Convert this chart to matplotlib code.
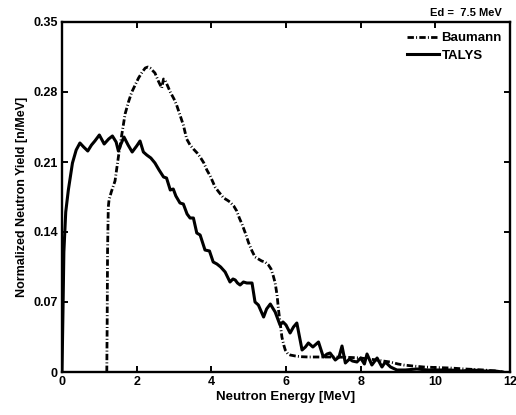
import matplotlib
matplotlib.use("Agg")
import matplotlib.pyplot as plt

# TALYS calculated neutron spectrum
talys_e = [0.0, 0.03, 0.05, 0.10, 0.17, 0.28, 0.38, 0.48, 0.58, 0.69, 0.79, 0.88,
           1.00, 1.13, 1.25, 1.35, 1.45, 1.51, 1.58, 1.66, 1.77, 1.88, 2.00, 2.09,
           2.18, 2.27, 2.38, 2.49, 2.60, 2.72, 2.80, 2.90, 2.98, 3.05, 3.16, 3.25,
           3.35, 3.43, 3.52, 3.61, 3.70, 3.83, 3.95, 4.05, 4.15, 4.25, 4.37, 4.50,
           4.58, 4.64, 4.70, 4.77, 4.86, 4.95, 5.09, 5.17, 5.26, 5.40, 5.48, 5.58,
           5.66, 5.71, 5.84, 5.92, 6.00, 6.11, 6.20, 6.29, 6.43, 6.52, 6.60, 6.72,
           6.87, 7.00, 7.10, 7.18, 7.32, 7.42, 7.50, 7.59, 7.70, 7.78, 7.90, 8.00,
           8.10, 8.17, 8.30, 8.44, 8.57, 8.66, 8.80, 8.97, 9.2, 9.5, 9.8, 10.1,
           10.4, 10.7, 11.0, 11.3, 11.6, 11.8]
talys_y = [0.0, 0.07, 0.12, 0.16, 0.182, 0.209, 0.222, 0.229, 0.225, 0.221, 0.227, 0.231,
           0.237, 0.228, 0.233, 0.236, 0.230, 0.221, 0.228, 0.235, 0.227, 0.220, 0.226, 0.231,
           0.220, 0.217, 0.214, 0.209, 0.202, 0.195, 0.194, 0.182, 0.183, 0.176, 0.169, 0.168,
           0.158, 0.154, 0.154, 0.139, 0.137, 0.122, 0.121, 0.110, 0.108, 0.105, 0.100, 0.090,
           0.093, 0.092, 0.089, 0.087, 0.090, 0.089, 0.089, 0.070, 0.067, 0.055, 0.063, 0.068,
           0.063, 0.060, 0.047, 0.050, 0.047, 0.039, 0.045, 0.049, 0.022, 0.025, 0.029, 0.025,
           0.030, 0.015, 0.018, 0.019, 0.012, 0.015, 0.026, 0.009, 0.013, 0.011, 0.010, 0.014,
           0.008, 0.018, 0.007, 0.014, 0.005, 0.010, 0.005, 0.002, 0.002, 0.003, 0.002, 0.002,
           0.002, 0.001, 0.002, 0.001, 0.001, 0.0]

# Baumann measured spectrum
baumann_e = [1.20, 1.21, 1.22, 1.24, 1.26, 1.32, 1.42, 1.51, 1.60, 1.69, 1.78, 1.87,
             1.96, 2.05, 2.15, 2.23, 2.30, 2.36, 2.49, 2.58, 2.67, 2.72, 2.76, 2.83,
             2.90, 3.00, 3.07, 3.16, 3.25, 3.34, 3.43, 3.52, 3.62, 3.70, 3.80, 3.88,
             3.97, 4.10, 4.20, 4.33, 4.42, 4.50, 4.60, 4.68, 4.75, 4.82, 4.91, 5.00,
             5.09, 5.17, 5.26, 5.35, 5.44, 5.53, 5.60, 5.66, 5.71, 5.76, 5.80, 5.85,
             5.89, 5.94, 5.98, 6.05, 6.11, 6.25, 6.40, 6.60, 6.83, 7.05, 7.27, 7.50,
             7.75, 8.00, 8.20, 8.44, 8.60, 8.79, 9.00, 9.15, 9.40, 9.69, 10.0, 10.4,
             10.8, 11.3, 11.6, 11.8]
baumann_y = [0.0, 0.05, 0.12, 0.165, 0.172, 0.180, 0.191, 0.215, 0.237, 0.258, 0.270, 0.280,
             0.287, 0.294, 0.300, 0.304, 0.305, 0.304, 0.299, 0.291, 0.284, 0.293, 0.292, 0.286,
             0.280, 0.273, 0.267, 0.257, 0.247, 0.233, 0.227, 0.223, 0.219, 0.215, 0.209, 0.202,
             0.196, 0.185, 0.180, 0.174, 0.172, 0.170, 0.166, 0.161, 0.154, 0.148, 0.139, 0.129,
             0.121, 0.115, 0.113, 0.111, 0.110, 0.107, 0.103, 0.096, 0.089, 0.077, 0.062, 0.047,
             0.035, 0.027, 0.022, 0.018, 0.017, 0.016, 0.0153, 0.015, 0.015, 0.015, 0.015, 0.0148,
             0.0145, 0.014, 0.013, 0.012, 0.011, 0.010, 0.008, 0.007, 0.006, 0.005, 0.0045, 0.004,
             0.003, 0.002, 0.001, 0.0]

x_ticks = [0, 2, 4, 6, 8, 10, 12]
y_ticks = [0, 0.07, 0.14, 0.21, 0.28, 0.35]
y_tick_labels = ["0", "0.07", "0.14", "0.21", "0.28", "0.35"]

plt.rcParams["font.family"] = ["Liberation Sans", "DejaVu Sans"]
plt.rcParams["font.weight"] = "bold"

fig = plt.figure(figsize=(5.16, 4.15), dpi=100)
ax = fig.add_axes([62 / 516, 43 / 415, 448 / 516, 350 / 415])

ax.plot(baumann_e, baumann_y, color="black", lw=2.0,
        dashes=[2.3, 0.8, 0.35, 0.8], label="Baumann")
ax.plot(talys_e, talys_y, color="black", lw=2.2, label="TALYS")

ax.set_xlim(0, 12)
ax.set_ylim(0, 0.35)
ax.set_xticks(x_ticks)
ax.set_xticklabels([str(t) for t in x_ticks])
ax.set_yticks(y_ticks)
ax.set_yticklabels(y_tick_labels)

for s in ax.spines.values():
    s.set_linewidth(1.7)
ax.tick_params(direction="in", length=4, width=1.4, top=True, right=True,
               labelsize=9, pad=3)
for lab in ax.get_xticklabels() + ax.get_yticklabels():
    lab.set_fontweight("bold")

ax.set_xlabel("Neutron Energy [MeV]", fontsize=9.5, fontweight="bold", labelpad=2)
ax.set_ylabel("Normalized Neutron Yield [n/MeV]", fontsize=9, fontweight="bold", labelpad=4)

ax.text(0.982, 1.012, "Ed =  7.5 MeV", transform=ax.transAxes, ha="right", va="bottom",
        fontsize=8, fontweight="bold")

leg = ax.legend(loc="upper right", frameon=False, fontsize=9.5, handlelength=2.4,
                handletextpad=0.2, labelspacing=0.4, borderaxespad=0.35,
                bbox_to_anchor=(1.004, 1.0))
for t in leg.get_texts():
    t.set_fontweight("bold")

fig.savefig("out.png", dpi=100)
